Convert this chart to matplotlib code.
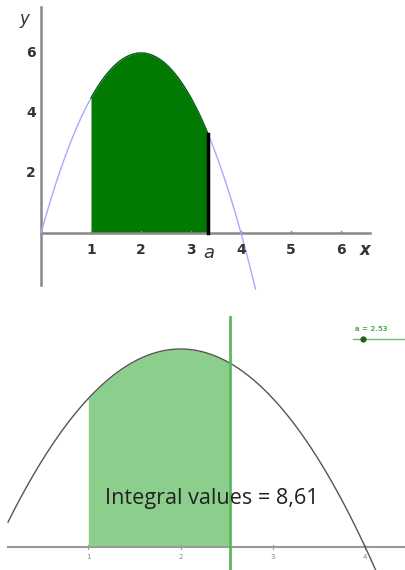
import numpy as np
import matplotlib
matplotlib.use('Agg')
import matplotlib.pyplot as plt

# parabola: f(x) = b*x + c*x^2 (roots 0 and 4, top at (2, 6))
coef_b = 6.0
coef_c = -1.5

# top panel
top_a = 3.34
top_lower = 1.0
top_xticks = [1, 2, 3, 4, 5, 6]
top_yticks = [2, 4, 6]

# bottom panel (GeoGebra screen)
bot_a = 2.53
bot_lower = 1.0
bot_xticks = [1, 2, 3, 4]
integral_label = "Integral values = 8,61"
slider_label = "a = 2.53"


def f(x):
    return coef_b * x + coef_c * x ** 2


W, H = 406, 570
fig = plt.figure(figsize=(W / 100, H / 100), dpi=100)

# ---------- top panel ----------
ax1 = fig.add_axes([0, 270 / H, 1, 300 / H])
ax1.set_xlim(-0.82, 7.3)
ax1.set_ylim(-2.233, 7.767)
ax1.axis('off')

ax1.plot([0, 0], [-1.73, 7.53], color='#888888', lw=1.8)
ax1.plot([0, 6.58], [0, 0], color='#888888', lw=1.8)
for t in top_xticks:
    ax1.plot([t, t], [0, 0.08], color='#888888', lw=1)
    ax1.text(t, -0.55, str(t), ha='center', va='center', fontsize=10,
             color='#333333', fontweight='bold')
for t in top_yticks:
    ax1.text(-0.2, t, str(t), ha='center', va='center', fontsize=10,
             color='#333333', fontweight='bold')
ax1.text(-0.34, 7.15, 'y', ha='center', va='center', fontsize=12,
         style='italic', color='#333333')
ax1.text(6.48, -0.55, 'x', ha='center', va='center', fontsize=12,
         style='italic', fontweight='bold', color='#333333')
ax1.text(top_a + 0.02, -0.65, 'a', ha='center', va='center', fontsize=13,
         style='italic', color='#333333')

xs = np.linspace(0, 4.29, 300)
ax1.plot(xs, f(xs), color='#a8a8ff', lw=1)
xf = np.linspace(top_lower, top_a, 200)
ax1.fill_between(xf, 0, f(xf), color='#007a00', lw=0)
ax1.plot(xf, f(xf), color='#006400', lw=1)
ax1.plot([top_a, top_a], [0, f(top_a)], color='black', lw=2.5)

# ---------- bottom panel ----------
ax2 = fig.add_axes([0, 0, 1, 270 / H])
ax2.set_xlim(0.0433, 4.442)
ax2.set_ylim(-0.697, 7.485)
ax2.axis('off')

ax2.plot([0.13, 4.45], [0, 0], color='#9a9a9a', lw=1.5)
for t in bot_xticks:
    ax2.plot([t, t], [-0.06, 0.06], color='#9a9a9a', lw=0.8)
    ax2.text(t, -0.3, str(t), ha='center', va='center', fontsize=5,
             color='#888888')

xf = np.linspace(bot_lower, bot_a, 200)
ax2.fill_between(xf, 0, f(xf), color='#8ccf8c', lw=0)
xs = np.linspace(0.13, 4.3, 300)
ax2.plot(xs, f(xs), color='#555555', lw=1)
ax2.plot([bot_a, bot_a], [-1, 6.97], color='#5cb85c', lw=2)

ax2.text(1.18, 1.48, integral_label, ha='left', va='center', fontsize=15.6,
         family='Open Sans', color='#222222')

ax2.plot([3.87, 4.45], [6.30, 6.30], color='#6cbf6c', lw=1)
ax2.plot([3.98], [6.30], 'o', color='#1f5f1f', ms=3.5)
ax2.text(3.89, 6.60, slider_label, ha='left', va='center', fontsize=5,
         color='#4caf50', fontweight='bold')

fig.savefig('out.png', dpi=100)
